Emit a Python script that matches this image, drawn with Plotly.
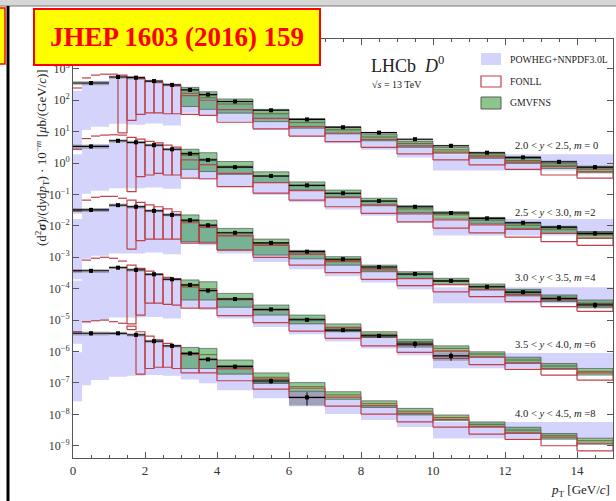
import numpy as np
import plotly.graph_objects as go

nan = np.nan

# ---------------------------------------------------------------------------
# Binning (pT in GeV/c)
# ---------------------------------------------------------------------------
data_edges = [0, 1, 1.5, 2, 2.5, 3, 3.5, 4, 5, 6, 7, 8, 9, 10, 11, 12, 13, 14, 15]
fonll_edges = [0, 0.25, 0.5, 0.75, 1, 1.25, 1.5, 1.75, 2, 2.25, 2.5, 2.75, 3,
               3.5, 4, 5, 6, 7, 8, 9, 10, 11, 12, 13, 14, 15]
powheg_edges = [0, 0.25, 0.5, 1, 1.5, 2, 2.5, 3, 3.5, 4, 5, 6, 7, 8, 9, 10, 15]
gmvfns_edges = [3, 3.5, 4, 5, 6, 7, 8, 9, 10, 11, 12, 13, 14, 15]

# rapidity intervals and the power of ten each one is divided by
y_labels = ["2.0 < <i>y</i> < 2.5, <i>m</i> = 0",
            "2.5 < <i>y</i> < 3.0, <i>m</i> =2",
            "3.0 < <i>y</i> < 3.5, <i>m</i> =4",
            "3.5 < <i>y</i> < 4.0, <i>m</i> =6",
            "4.0 < <i>y</i> < 4.5, <i>m</i> =8"]
m_scale = [0, 2, 4, 6, 8]

# ---------------------------------------------------------------------------
# log10 of d2sigma/(dy dpT) in mub/(GeV/c), before the 10^-m scaling
# ---------------------------------------------------------------------------
# LHCb measurement
data_y1 = [2.55, 2.74, 2.72, 2.61, 2.49, 2.33, 2.18, 1.96, 1.68, 1.39, 1.14, 0.97, 0.76, 0.55, 0.33, 0.18, 0.04, -0.13]
data_y2 = [2.53, 2.71, 2.66, 2.57, 2.44, 2.30, 2.10, 1.87, 1.59, 1.29, 1.04, 0.79, 0.61, 0.41, 0.24, 0.10, -0.04, -0.24]
data_y3 = [2.51, 2.66, 2.61, 2.48, 2.35, 2.18, 2.02, 1.78, 1.46, 1.18, 0.94, 0.69, 0.47, 0.25, 0.06, -0.11, -0.31, -0.52]
data_y4 = [2.57, 2.67, 2.60, 2.46, 2.30, 2.12, 1.94, 1.67, 1.34, 1.01, 0.68, 0.50, 0.24, -0.14, nan, nan, nan, nan]
data_y5 = [2.58, 2.58, 2.53, 2.33, 2.18, 1.94, 1.75, 1.52, 1.06, 0.54, nan, nan, nan, nan, nan, nan, nan, nan]

# relative total uncertainty of the measurement
err_y1 = [0.15, 0.12, 0.12, 0.10, 0.10, 0.10, 0.09, 0.08, 0.07, 0.07, 0.07, 0.07, 0.08, 0.08, 0.09, 0.10, 0.11, 0.13]
err_y2 = [0.15, 0.12, 0.12, 0.10, 0.10, 0.10, 0.09, 0.08, 0.07, 0.07, 0.07, 0.07, 0.08, 0.08, 0.09, 0.10, 0.12, 0.15]
err_y3 = [0.15, 0.12, 0.12, 0.10, 0.10, 0.10, 0.09, 0.08, 0.07, 0.07, 0.07, 0.08, 0.09, 0.10, 0.12, 0.14, 0.17, 0.22]
err_y4 = [0.15, 0.12, 0.12, 0.10, 0.10, 0.10, 0.09, 0.09, 0.09, 0.10, 0.11, 0.14, 0.25, 0.30, nan, nan, nan, nan]
err_y5 = [0.15, 0.12, 0.12, 0.11, 0.11, 0.11, 0.11, 0.13, 0.20, 0.45, nan, nan, nan, nan, nan, nan, nan, nan]

# GMVFNS: upper edge, lower edge, central value
gmv_hi_y1 = [2.41, 2.27, 2.04, 1.71, 1.41, 1.16, 0.92, 0.70, 0.50, 0.32, 0.15, 0.00, -0.13]
gmv_lo_y1 = [1.80, 1.71, 1.59, 1.32, 1.11, 0.93, 0.71, 0.50, 0.31, 0.15, -0.01, -0.17, -0.31]
gmv_c_y1 = [2.22, 2.08, 1.88, 1.57, 1.29, 1.06, 0.83, 0.62, 0.42, 0.25, 0.08, -0.07, -0.20]
gmv_hi_y2 = [2.44, 2.33, 2.05, 1.72, 1.40, 1.14, 0.88, 0.64, 0.45, 0.27, 0.10, -0.03, -0.18]
gmv_lo_y2 = [1.80, 1.73, 1.64, 1.38, 1.14, 0.92, 0.64, 0.42, 0.24, 0.08, -0.08, -0.24, -0.40]
gmv_c_y2 = [2.25, 2.12, 1.90, 1.58, 1.28, 1.03, 0.78, 0.54, 0.35, 0.18, 0.02, -0.12, -0.28]
gmv_hi_y3 = [2.35, 2.18, 1.92, 1.58, 1.22, 1.02, 0.75, 0.54, 0.33, 0.15, -0.02, -0.20, -0.36]
gmv_lo_y3 = [1.50, 1.48, 1.23, 1.07, 0.95, 0.75, 0.54, 0.33, 0.12, -0.04, -0.23, -0.41, -0.59]
gmv_c_y3 = [2.15, 2.00, 1.70, 1.42, 1.10, 0.90, 0.65, 0.45, 0.23, 0.06, -0.12, -0.30, -0.47]
gmv_hi_y4 = [2.28, 2.22, 1.85, 1.48, 1.16, 0.88, 0.63, 0.39, 0.18, -0.01, -0.18, -0.38, -0.54]
gmv_lo_y4 = [1.64, 1.64, 1.41, 1.16, 0.88, 0.63, 0.45, 0.18, -0.01, -0.18, -0.38, -0.57, -0.75]
gmv_c_y4 = [2.05, 2.00, 1.67, 1.34, 1.03, 0.77, 0.55, 0.30, 0.10, -0.08, -0.27, -0.46, -0.63]
gmv_hi_y5 = [2.13, 2.10, 1.73, 1.32, 1.01, 0.72, 0.43, 0.19, -0.02, -0.24, -0.41, -0.61, -0.76]
gmv_lo_y5 = [1.46, 1.46, 1.28, 0.99, 0.72, 0.48, 0.22, -0.02, -0.20, -0.41, -0.61, -0.79, -0.95]
gmv_c_y5 = [1.95, 1.90, 1.55, 1.18, 0.88, 0.62, 0.34, 0.10, -0.10, -0.32, -0.50, -0.68, -0.84]

# FONLL: upper and lower edge of the uncertainty band (no lower edge where it is <= 0)
fonll_hi_y1 = [2.39, 2.71, 2.80, 2.83, 2.83, 2.80, 2.74, 2.69, 2.61, 2.56, 2.51, 2.46, 2.15, 2.00, 1.70, 1.42, 1.16, 0.95, 0.75, 0.55, 0.35, 0.20, 0.03, -0.11, -0.27]
fonll_lo_y1 = [nan, nan, nan, nan, nan, 0.96, 1.36, 1.55, 1.60, 1.60, 1.57, 1.57, 1.55, 1.52, 1.30, 1.09, 0.86, 0.68, 0.50, 0.29, 0.10, -0.06, -0.20, -0.38, -0.48]
fonll_hi_y2 = [2.44, 2.78, 2.86, 2.89, 2.90, 2.89, 2.82, 2.76, 2.69, 2.64, 2.57, 2.51, 2.10, 1.95, 1.67, 1.38, 1.12, 0.90, 0.67, 0.38, 0.19, 0.03, -0.11, -0.24, -0.39]
fonll_lo_y2 = [nan, nan, nan, nan, nan, nan, 1.09, 1.57, 1.62, 1.67, 1.62, 1.62, 1.52, 1.50, 1.25, 1.04, 0.82, 0.61, 0.40, 0.13, -0.07, -0.22, -0.36, -0.50, -0.62]
fonll_hi_y3 = [2.47, 2.82, 2.91, 2.94, 2.94, 2.88, 2.82, 2.75, 2.67, 2.61, 2.54, 2.45, 2.10, 1.95, 1.68, 1.38, 1.10, 0.86, 0.60, 0.32, 0.14, -0.03, -0.19, -0.35, -0.50]
fonll_lo_y3 = [nan, nan, nan, nan, nan, nan, 1.26, 1.53, 1.58, 1.58, 1.58, 1.58, 1.45, 1.45, 1.23, 1.00, 0.75, 0.51, 0.30, 0.10, -0.10, -0.25, -0.41, -0.57, -0.72]
fonll_hi_y4 = [2.57, 2.91, 2.97, 3.00, 2.97, 2.88, 2.75, 2.65, 2.56, 2.46, 2.36, 2.31, 2.10, 1.95, 1.65, 1.32, 1.02, 0.75, 0.50, 0.22, 0.02, -0.18, -0.36, -0.54, -0.68]
fonll_lo_y4 = [nan, nan, nan, nan, nan, nan, 0.88, 1.16, 1.54, 1.54, 1.50, 1.48, 1.38, 1.38, 1.14, 0.92, 0.65, 0.42, 0.18, -0.03, -0.22, -0.42, -0.57, -0.75, -0.91]
fonll_hi_y5 = [2.63, 2.95, 2.98, 3.00, 2.95, 2.90, 2.81, 2.63, 2.49, 2.37, 2.26, 2.18, 1.90, 1.75, 1.45, 1.12, 0.83, 0.55, 0.28, 0.03, -0.16, -0.39, -0.59, -0.73, -0.92]
fonll_lo_y5 = [nan, nan, nan, nan, nan, nan, 2.70, 1.28, 1.46, 1.50, 1.50, 1.46, 1.32, 1.32, 1.07, 0.80, 0.53, 0.26, 0.01, -0.24, -0.41, -0.63, -0.80, -1.00, -1.16]

# POWHEG+NNPDF3.0L: upper and lower edge of the uncertainty band (last bin 10-15 GeV/c)
pow_hi_y1 = [2.30, 2.55, 2.62, 2.70, 2.70, 2.60, 2.48, 2.30, 2.18, 1.92, 1.62, 1.35, 1.10, 0.90, 0.70, 0.28]
pow_lo_y1 = [0.40, 1.05, 1.16, 1.25, 1.22, 1.26, 1.20, 1.60, 1.53, 1.32, 1.05, 0.84, 0.63, 0.42, 0.18, -0.24]
pow_hi_y2 = [2.28, 2.52, 2.60, 2.68, 2.68, 2.58, 2.45, 2.28, 2.15, 1.88, 1.58, 1.28, 1.02, 0.80, 0.60, 0.22]
pow_lo_y2 = [0.38, 1.02, 1.12, 1.20, 1.20, 1.22, 1.18, 1.55, 1.48, 1.25, 0.98, 0.75, 0.52, 0.32, 0.10, -0.31]
pow_hi_y3 = [2.22, 2.48, 2.56, 2.62, 2.62, 2.52, 2.40, 2.20, 2.05, 1.78, 1.45, 1.15, 0.90, 0.66, 0.45, 0.05]
pow_lo_y3 = [0.30, 0.95, 1.05, 1.12, 1.12, 1.15, 1.10, 1.45, 1.38, 1.12, 0.85, 0.62, 0.40, 0.20, -0.02, -0.46]
pow_hi_y4 = [2.25, 2.50, 2.55, 2.60, 2.58, 2.48, 2.35, 2.15, 2.00, 1.72, 1.40, 1.08, 0.80, 0.55, 0.35, -0.05]
pow_lo_y4 = [0.25, 0.90, 1.00, 1.08, 1.08, 1.10, 1.05, 1.40, 1.32, 1.05, 0.78, 0.55, 0.32, 0.10, -0.12, -0.53]
pow_hi_y5 = [1.98, 2.55, 2.58, 2.58, 2.50, 2.33, 2.15, 1.90, 1.75, 1.45, 1.10, 0.78, 0.50, 0.28, 0.05, -0.24]
pow_lo_y5 = [0.42, 0.93, 1.09, 1.20, 1.23, 1.25, 1.23, 1.11, 0.99, 0.77, 0.51, 0.26, 0.01, -0.18, -0.40, -0.77]

series = [
    (data_y1, err_y1, gmv_hi_y1, gmv_lo_y1, gmv_c_y1, fonll_hi_y1, fonll_lo_y1, pow_hi_y1, pow_lo_y1),
    (data_y2, err_y2, gmv_hi_y2, gmv_lo_y2, gmv_c_y2, fonll_hi_y2, fonll_lo_y2, pow_hi_y2, pow_lo_y2),
    (data_y3, err_y3, gmv_hi_y3, gmv_lo_y3, gmv_c_y3, fonll_hi_y3, fonll_lo_y3, pow_hi_y3, pow_lo_y3),
    (data_y4, err_y4, gmv_hi_y4, gmv_lo_y4, gmv_c_y4, fonll_hi_y4, fonll_lo_y4, pow_hi_y4, pow_lo_y4),
    (data_y5, err_y5, gmv_hi_y5, gmv_lo_y5, gmv_c_y5, fonll_hi_y5, fonll_lo_y5, pow_hi_y5, pow_lo_y5),
]

# ---------------------------------------------------------------------------
# Styling
# ---------------------------------------------------------------------------
SERIF = "Liberation Serif, Times New Roman, serif"
POW_FILL = "rgba(150,150,245,0.42)"
GMV_FILL = "rgba(30,145,45,0.50)"
GMV_EDGE = "rgba(60,60,60,0.75)"
GMV_MID = "rgb(115,105,35)"
FONLL_RED = "rgb(192,64,74)"
DATA_BOX = "rgba(70,70,70,0.35)"

W, H = 616, 501
ML, MR, MT, MB = 73, 3, 39, 43
PW, PH = W - ML - MR, H - MT - MB


def fx(px):
    """horizontal pixel -> paper coordinate"""
    return (px - ML) / PW


def fy(py):
    """vertical pixel (from top) -> paper coordinate"""
    return (H - MB - py) / PH


def lin(v, m):
    return None if np.isnan(v) else 10 ** (v - m)


def box_path(edges, lo, hi, m):
    xs, ys = [], []
    for i in range(len(edges) - 1):
        a, b = lin(lo[i], m), lin(hi[i], m)
        if a is None or b is None:
            continue
        x0, x1 = edges[i], edges[i + 1]
        xs += [x0, x1, x1, x0, x0, None]
        ys += [a, a, b, b, a, None]
    return xs, ys


def step_path(edges, vals, m):
    xs, ys = [], []
    for i in range(len(edges) - 1):
        v = lin(vals[i], m)
        if v is None:
            continue
        xs += [edges[i], edges[i + 1], None]
        ys += [v, v, None]
    return xs, ys


def outline_path(edges, lo, hi, m):
    xs, ys = [], []
    for i in range(len(edges) - 1):
        b = lin(hi[i], m)
        a = lin(lo[i], m)
        x0, x1 = edges[i], edges[i + 1]
        if a is None:
            xs += [x0, x1, None]
            ys += [b, b, None]
        else:
            xs += [x0, x1, x1, x0, x0, None]
            ys += [a, a, b, b, a, None]
    return xs, ys


fig = go.Figure()

for (dat, err, g_hi, g_lo, g_c, f_hi, f_lo, p_hi, p_lo), m in zip(series, m_scale):
    # POWHEG band
    xs, ys = box_path(powheg_edges, p_lo, p_hi, m)
    fig.add_trace(go.Scatter(x=xs, y=ys, mode="lines", fill="toself", fillcolor=POW_FILL,
                             line=dict(width=0), hoverinfo="skip", showlegend=False))

for (dat, err, g_hi, g_lo, g_c, f_hi, f_lo, p_hi, p_lo), m in zip(series, m_scale):
    # GMVFNS band and central value
    xs, ys = box_path(gmvfns_edges, g_lo, g_hi, m)
    fig.add_trace(go.Scatter(x=xs, y=ys, mode="lines", fill="toself", fillcolor=GMV_FILL,
                             line=dict(width=0.8, color=GMV_EDGE), hoverinfo="skip", showlegend=False))
    xs, ys = step_path(gmvfns_edges, g_c, m)
    fig.add_trace(go.Scatter(x=xs, y=ys, mode="lines", line=dict(width=1, color=GMV_MID),
                             hoverinfo="skip", showlegend=False))

for (dat, err, g_hi, g_lo, g_c, f_hi, f_lo, p_hi, p_lo), m in zip(series, m_scale):
    # FONLL boxes
    xs, ys = outline_path(fonll_edges, f_lo, f_hi, m)
    fig.add_trace(go.Scatter(x=xs, y=ys, mode="lines", line=dict(width=1.2, color=FONLL_RED),
                             hoverinfo="skip", showlegend=False))

for (dat, err, g_hi, g_lo, g_c, f_hi, f_lo, p_hi, p_lo), m in zip(series, m_scale):
    # measurement: uncertainty boxes, bin-width bars, points with error bars
    lo = [v + np.log10(1 - e) if not np.isnan(v) else nan for v, e in zip(dat, err)]
    hi = [v + np.log10(1 + e) if not np.isnan(v) else nan for v, e in zip(dat, err)]
    xs, ys = box_path(data_edges, lo, hi, m)
    fig.add_trace(go.Scatter(x=xs, y=ys, mode="lines", fill="toself", fillcolor=DATA_BOX,
                             line=dict(width=0), hoverinfo="skip", showlegend=False))
    xs, ys = step_path(data_edges, dat, m)
    fig.add_trace(go.Scatter(x=xs, y=ys, mode="lines", line=dict(width=1.1, color="black"),
                             hoverinfo="skip", showlegend=False))
    cx, cy, ep, em = [], [], [], []
    for i in range(len(data_edges) - 1):
        v = lin(dat[i], m)
        if v is None:
            continue
        cx.append(0.5 * (data_edges[i] + data_edges[i + 1]))
        cy.append(v)
        ep.append(v * err[i])
        em.append(v * err[i])
    fig.add_trace(go.Scatter(x=cx, y=cy, mode="markers",
                             marker=dict(symbol="square", size=4, color="black"),
                             error_y=dict(type="data", array=ep, arrayminus=em, width=0,
                                          thickness=1, color="black"),
                             hoverinfo="skip", showlegend=False))

# ---------------------------------------------------------------------------
# Axes
# ---------------------------------------------------------------------------
exps = list(range(-9, 4))
ytext = ["10<sup>%s</sup>" % (str(k) if k >= 0 else "\u2212" + str(-k)) for k in exps]

fig.update_xaxes(range=[0, 15], tickvals=[0, 2, 4, 6, 8, 10, 12, 14], ticks="inside", ticklen=6,
                 tickcolor="#555", showline=True, linecolor="#555", linewidth=1, mirror="ticks",
                 showgrid=False, zeroline=False,
                 minor=dict(dtick=0.5, ticks="inside", ticklen=3, tickcolor="#555", showgrid=False),
                 tickfont=dict(family=SERIF, size=13, color="#333"))
fig.update_yaxes(type="log", range=[-9.39, 3.95], tickvals=[10.0 ** k for k in exps], ticktext=ytext,
                 ticks="inside", ticklen=6, tickcolor="#555", showline=True, linecolor="#555",
                 linewidth=1, mirror="ticks", showgrid=False, zeroline=False,
                 tickfont=dict(family=SERIF, size=12, color="#333"))

shapes = []
annotations = []

# legend
leg_x0, leg_x1 = fx(481), fx(501)
shapes.append(dict(type="rect", xref="paper", yref="paper", x0=leg_x0, x1=leg_x1, y0=fy(65), y1=fy(53),
                   fillcolor="rgb(211,211,251)", line=dict(width=0)))
shapes.append(dict(type="rect", xref="paper", yref="paper", x0=leg_x0, x1=leg_x1, y0=fy(87), y1=fy(76),
                   fillcolor="white", line=dict(width=1.2, color=FONLL_RED)))
shapes.append(dict(type="rect", xref="paper", yref="paper", x0=leg_x0, x1=leg_x1, y0=fy(109), y1=fy(97),
                   fillcolor="rgb(140,198,140)", line=dict(width=1, color="rgb(90,90,90)")))
for txt, py in [("POWHEG+NNPDF3.0L", 59.5), ("FONLL", 81.5), ("GMVFNS", 103)]:
    annotations.append(dict(text=txt, xref="paper", yref="paper", x=fx(508), y=fy(py),
                            xanchor="left", yanchor="middle", showarrow=False,
                            font=dict(family=SERIF, size=9.8, color="#222")))

annotations.append(dict(text="LHCb  <i>D</i><sup>0</sup>", xref="paper", yref="paper", x=fx(369), y=fy(65),
                        xanchor="left", yanchor="middle", showarrow=False,
                        font=dict(family=SERIF, size=18, color="#222")))
annotations.append(dict(text="\u221A<i>s</i> = 13 TeV", xref="paper", yref="paper", x=fx(370), y=fy(84),
                        xanchor="left", yanchor="middle", showarrow=False,
                        font=dict(family=SERIF, size=10, color="#222")))

for txt, py in zip(y_labels, [145, 212, 277, 344, 413]):
    annotations.append(dict(text=txt, xref="paper", yref="paper", x=fx(513), y=fy(py),
                            xanchor="left", yanchor="middle", showarrow=False,
                            font=dict(family=SERIF, size=10.6, color="#222")))

annotations.append(dict(text="<i>p</i><sub>T</sub> [GeV/<i>c</i>]", xref="paper", yref="paper",
                        x=fx(612), y=fy(490), xanchor="right", yanchor="middle", showarrow=False,
                        font=dict(family=SERIF, size=13, color="#222")))

annotations.append(dict(text="(d<sup>2</sup><b><i>σ</i></b>)/(d<i>y</i>d<i>p</i><sub>T</sub>) · 10<sup>\u2212<i>m</i></sup>"
                             " [<i>μ</i>b/(GeV/<i>c</i>)]",
                        xref="paper", yref="paper", x=fx(42), y=fy(158), textangle=-90,
                        xanchor="center", yanchor="middle", showarrow=False,
                        font=dict(family=SERIF, size=13, color="#222")))

# page furniture around the figure
shapes.append(dict(type="rect", xref="paper", yref="paper", x0=fx(0), x1=fx(W), y0=fy(6), y1=fy(0),
                   fillcolor="rgb(214,214,214)", line=dict(width=0), layer="above"))
shapes.append(dict(type="line", xref="paper", yref="paper", x0=fx(0), x1=fx(W), y0=fy(6), y1=fy(6),
                   line=dict(width=1, color="rgb(120,120,120)"), layer="above"))
shapes.append(dict(type="line", xref="paper", yref="paper", x0=fx(8), x1=fx(8), y0=fy(6), y1=fy(H),
                   line=dict(width=3, color="black"), layer="above"))
shapes.append(dict(type="rect", xref="paper", yref="paper", x0=fx(-2), x1=fx(5), y0=fy(64), y1=fy(8),
                   fillcolor="yellow", line=dict(width=1.5, color="red"), layer="above"))

annotations.append(dict(text="<b>JHEP 1603 (2016) 159</b>", xref="paper", yref="paper",
                        x=fx(33), y=fy(8), xanchor="left", yanchor="top", showarrow=False,
                        width=284, height=54, align="center", valign="middle",
                        bgcolor="yellow", bordercolor="red", borderwidth=2, borderpad=0,
                        font=dict(family=SERIF, size=27, color="red")))

fig.update_layout(width=W, height=H, margin=dict(l=ML, r=MR, t=MT, b=MB),
                  paper_bgcolor="white", plot_bgcolor="white",
                  shapes=shapes, annotations=annotations, showlegend=False)

fig.write_html("out.html")
